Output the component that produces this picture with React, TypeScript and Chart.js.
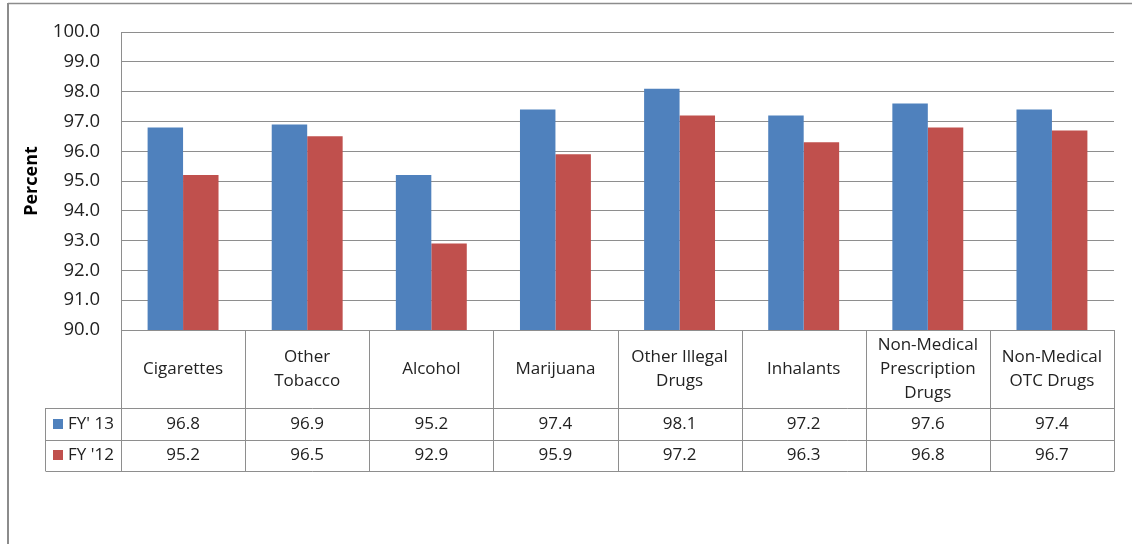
import React, { useEffect, useRef } from "react";
import { Chart, registerables } from "chart.js";

Chart.register(...registerables);

// Category header lines (each entry is one wrapped header cell)
const categories: string[][] = [
  ["Cigarettes"],
  ["Other", "Tobacco"],
  ["Alcohol"],
  ["Marijuana"],
  ["Other Illegal", "Drugs"],
  ["Inhalants"],
  ["Non-Medical", "Prescription", "Drugs"],
  ["Non-Medical", "OTC Drugs"],
];

const seriesNames = ["FY' 13", "FY '12"];
const fy13 = [96.8, 96.9, 95.2, 97.4, 98.1, 97.2, 97.6, 97.4];
const fy12 = [95.2, 96.5, 92.9, 95.9, 97.2, 96.3, 96.8, 96.7];

const yMin = 90;
const yMax = 100;
const yStep = 1;

const BLUE = "#4F81BD";
const RED = "#C0504D";
const LINE = "#8e8e8e";
const TEXT = "#222222";
const FONT = "'Open Sans', 'Noto Sans', sans-serif";

// Frame around the chart object
const framePlugin = {
  id: "frame",
  beforeDraw(chart: any) {
    const ctx = chart.ctx;
    ctx.save();
    ctx.strokeStyle = "#8c8c8c";
    ctx.lineWidth = 1.5;
    ctx.beginPath();
    ctx.moveTo(8, 3.5);
    ctx.lineTo(chart.width, 3.5);
    ctx.stroke();
    ctx.lineWidth = 2;
    ctx.beginPath();
    ctx.moveTo(8, 3);
    ctx.lineTo(8, chart.height);
    ctx.stroke();
    ctx.restore();
  },
};

// Data table under the plot: category headers plus one row per series
const dataTablePlugin = {
  id: "dataTable",
  afterDraw(chart: any) {
    const ctx = chart.ctx;
    const x = chart.scales.x;
    const area = chart.chartArea;
    const top = area.bottom;
    const headerBottom = top + 78;
    const rowH = 31.5;
    const tableBottom = headerBottom + rowH * 2;
    const legendLeft = 45;
    const n = categories.length;
    const px = (v: number) => Math.round(v) + 0.5;

    ctx.save();
    ctx.strokeStyle = LINE;
    ctx.lineWidth = 1;
    ctx.beginPath();
    // vertical cell borders
    for (let i = 0; i <= n; i++) {
      const bx = px(x.getPixelForValue(i - 0.5));
      ctx.moveTo(bx, top);
      ctx.lineTo(bx, tableBottom);
    }
    ctx.moveTo(px(legendLeft), headerBottom);
    ctx.lineTo(px(legendLeft), tableBottom);
    // horizontal row borders
    const right = px(x.getPixelForValue(n - 0.5));
    for (let r = 0; r <= 2; r++) {
      const y = px(headerBottom + rowH * r);
      ctx.moveTo(px(legendLeft), y);
      ctx.lineTo(right, y);
    }
    ctx.stroke();

    ctx.fillStyle = TEXT;
    ctx.font = `17px ${FONT}`;
    ctx.textAlign = "center";
    ctx.textBaseline = "middle";
    const headerMid = (top + headerBottom) / 2;
    const lh = 24;
    categories.forEach((lines, i) => {
      const cx = x.getPixelForValue(i);
      const start = headerMid - ((lines.length - 1) * lh) / 2;
      lines.forEach((t, k) => ctx.fillText(t, cx, start + k * lh));
    });

    const rows = [fy13, fy12];
    const colors = [BLUE, RED];
    rows.forEach((vals, r) => {
      const cy = headerBottom + rowH * r + rowH / 2;
      ctx.textAlign = "center";
      ctx.fillStyle = TEXT;
      vals.forEach((v, i) => ctx.fillText(v.toFixed(1), x.getPixelForValue(i), cy));
      ctx.fillStyle = colors[r];
      ctx.fillRect(53, Math.round(cy) - 5, 10, 10);
      ctx.fillStyle = TEXT;
      ctx.textAlign = "left";
      ctx.fillText(seriesNames[r], 68, cy);
    });
    ctx.restore();
  },
};

export default function App() {
  const canvasRef = useRef<HTMLCanvasElement | null>(null);

  useEffect(() => {
    if (!canvasRef.current) return;
    const chart = new Chart(canvasRef.current, {
      type: "bar",
      data: {
        labels: categories.map((l) => l.join(" ")),
        datasets: [
          { label: seriesNames[0], data: fy13, backgroundColor: BLUE, borderWidth: 0 },
          { label: seriesNames[1], data: fy12, backgroundColor: RED, borderWidth: 0 },
        ],
      },
      options: {
        responsive: false,
        animation: false,
        layout: { padding: { left: 0, top: 30, right: 18, bottom: 214 } },
        datasets: {
          bar: { categoryPercentage: 2 / 3.5, barPercentage: 1 },
        },
        plugins: {
          legend: { display: false },
          tooltip: { enabled: false },
          title: { display: false },
        },
        scales: {
          x: {
            display: false,
            offset: true,
          },
          y: {
            min: yMin,
            max: yMax,
            afterFit(scale: any) {
              scale.width = 121;
            },
            ticks: {
              stepSize: yStep,
              padding: 21,
              color: TEXT,
              font: { family: FONT, size: 18.5 },
              callback: (v: any) => Number(v).toFixed(1),
            },
            grid: { color: LINE, lineWidth: 1, drawTicks: false },
            border: { color: LINE, width: 1 },
            title: {
              display: true,
              text: "Percent",
              color: "#000",
              font: { family: FONT, size: 18, weight: "bold" },
              padding: { top: 21, bottom: 0 },
            },
          },
        },
      },
      plugins: [framePlugin, dataTablePlugin],
    });
    return () => chart.destroy();
  }, []);

  return (
    <div style={{ position: "fixed", left: 0, top: 0, width: 1132, height: 544, background: "#fff" }}>
      <canvas ref={canvasRef} width={1132} height={544} style={{ display: "block" }} />
    </div>
  );
}
